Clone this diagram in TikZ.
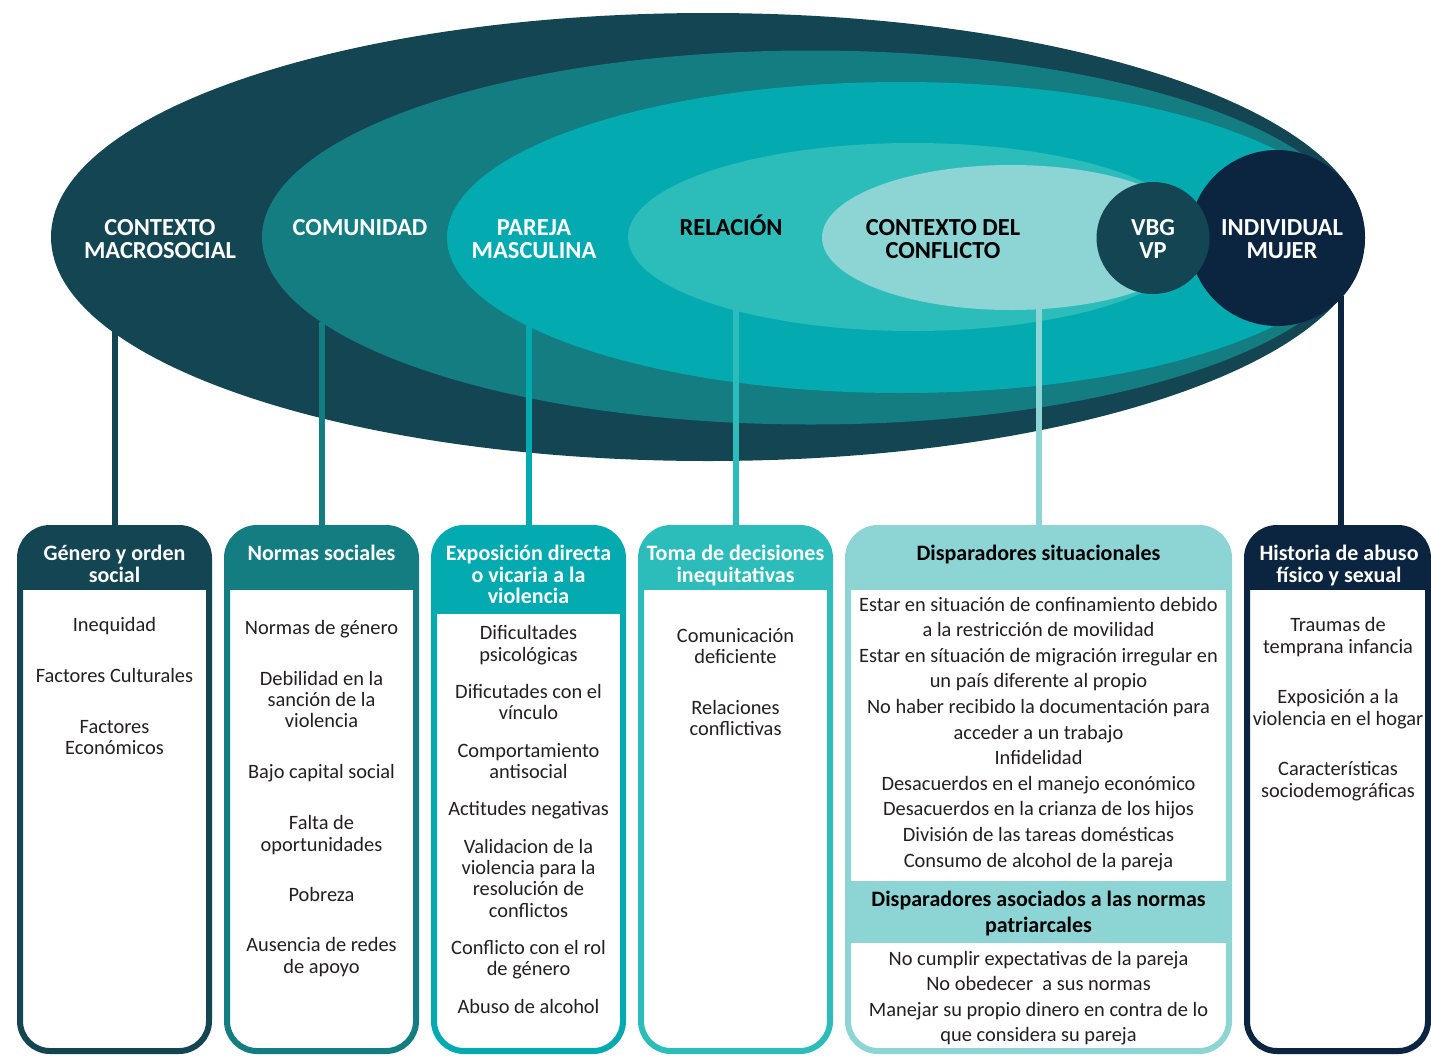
\documentclass[tikz,border=0pt]{standalone}
\usepackage{fontspec}
\setmainfont{Carlito}
\usetikzlibrary{shapes.geometric,positioning}
\definecolor{macro}{HTML}{134553}
\definecolor{comu}{HTML}{137D81}
\definecolor{pareja}{HTML}{03ABB0}
\definecolor{rela}{HTML}{2CBDBB}
\definecolor{confl}{HTML}{8DD4D5}
\definecolor{indiv}{HTML}{0B2541}
\definecolor{texto}{HTML}{231F20}

\begin{document}
\begin{tikzpicture}[x=1pt,y=-1pt,
  capa/.style={ellipse,fill=#1,inner sep=0pt},
  rotulo/.style={font=\fontsize{24.5}{24.5}\selectfont\bfseries,text=#1,inner sep=0pt,text height=16pt,text depth=0pt},
  caja/.style 2 args={draw=#1,line width=6pt,fill=white,rounded corners=30pt,minimum height=523pt,inner sep=0pt,
    path picture={\fill[#1,sharp corners] (path picture bounding box.north west) rectangle ([yshift=-#2]path picture bounding box.north east);}},
  lema/.style={font=\fontsize{22}{22}\selectfont\bfseries,text=#1,inner sep=0pt,text height=14pt,text depth=0pt},
  item/.style={font=\fontsize{20.4}{20.4}\selectfont,text=texto,inner sep=0pt,text height=12pt,text depth=0pt},
  enlace/.style={draw=#1,line width=6pt}]
\useasboundingbox (0,0) rectangle (1431,1055);

% anillos
\node[capa=macro,minimum width=1314pt,minimum height=448pt] (macro) at (708,237) {};
\node[capa=comu,minimum width=1098pt,minimum height=374pt] (comu) at (811,237.5) {};
\node[capa=pareja,minimum width=908pt,minimum height=311pt] (pareja) at (901,237.5) {};
\node[capa=rela,minimum width=570pt,minimum height=188pt] (rela) at (913,237) {};
\node[capa=confl,minimum width=378pt,minimum height=145pt] (confl) at (1011,237.5) {};
\node[capa=indiv,minimum width=176pt,minimum height=176pt] (indiv) at (1277,238) {};
\node[capa=macro,minimum width=113pt,minimum height=112pt] (vbg) at (1153,238) {};

% cajas
\node[caja={macro}{62pt},minimum width=189pt] (b1) at (114.5,789.5) {};
\node[caja={comu}{62pt},minimum width=189pt] (b2) at (321.5,789.5) {};
\node[caja={pareja}{86pt},minimum width=189pt] (b3) at (528.5,789.5) {};
\node[caja={rela}{62pt},minimum width=189pt] (b4) at (735.5,789.5) {};
\node[caja={confl}{62pt},minimum width=381pt] (b5) at (1038.5,789.5) {};
\node[caja={indiv}{62pt},minimum width=181pt] (b6) at (1337.5,789.5) {};
\fill[confl] (b5.west |- 0,881) rectangle (b5.east |- 0,943);

% enlaces
\coordinate (o1) at (114.5,331);
\coordinate (o2) at (321.5,322);
\coordinate (o3) at (528.5,326);
\coordinate (o4) at (735.5,309);
\coordinate (o5) at (1038.5,309);
\coordinate (o6) at (1341,296);
\foreach \o/\b/\c in {o1/b1/macro,o2/b2/comu,o3/b3/pareja,o4/b4/rela,o5/b5/confl,o6/b6/indiv}
  \draw[enlace=\c] (\o) -- (\o |- \b.north);

% rotulos de los anillos
\foreach \x/\y/\t/\c [count=\i] in {160/227/CONTEXTO/white,160/250/MACROSOCIAL/white,360/227/COMUNIDAD/white,
  534/227/PAREJA/white,534/250/MASCULINA/white,731/227/RELACIÓN/black,943/227/CONTEXTO DEL/black,
  943/250/CONFLICTO/black,1153/227/VBG/white,1153/250/VP/white,1282/227/INDIVIDUAL/white,1282/250/MUJER/white}
  \node[rotulo=\c] (r\i) at (\x,\y) {\t};

% encabezados
\foreach \x/\y/\t/\c [count=\i] in {114.5/553/Género y orden/white,114.5/575/social/white,321.5/553/Normas sociales/white,
  528.5/553/Exposición directa/white,528.5/575/o vicaria a la/white,528.5/596/violencia/white,
  735.5/553/Toma de decisiones/white,735.5/575/inequitativas/white,1038.5/553/Disparadores situacionales/black,
  1038.5/899/Disparadores asociados a las normas/black,1038.5/925/patriarcales/black,
  1339/553/Historia de abuso/white,1339/575/físico y sexual/white}
  \node[lema=\c] (e\i) at (\x,\y) {\t};

% contenido
\foreach \y/\t [count=\i] in {625/Inequidad,676/Factores Culturales,727/Factores,748/Económicos}
  \node[item] (a\i) at (114.5,\y) {\t};
\foreach \y/\t [count=\i] in {628/Normas de género,679/Debilidad en la,700/sanción de la,721/violencia,
  772/Bajo capital social,823/Falta de,845/oportunidades,895/Pobreza,945/Ausencia de redes,967/de apoyo}
  \node[item] (n\i) at (321.5,\y) {\t};
\foreach \y/\t [count=\i] in {633/Dificultades,655/psicológicas,692/Dificutades con el,713/vínculo,
  751/Comportamiento,772/antisocial,809/Actitudes negativas,847/Validacion de la,868/violencia para la,
  889/resolución de,911/conflictos,948/Conflicto con el rol,969/de género,1007/Abuso de alcohol}
  \node[item] (x\i) at (528.5,\y) {\t};
\foreach \y/\t [count=\i] in {636/Comunicación,657/deficiente,708/Relaciones,729/conflictivas}
  \node[item] (d\i) at (735.5,\y) {\t};
\foreach \y/\t [count=\i] in {605/Estar en situación de confinamiento debido,630/a la restricción de movilidad,
  656/Estar en sítuación de migración irregular en,681/un país diferente al propio,
  707/No haber recibido la documentación para,733/acceder a un trabajo,758/Infidelidad,
  784/Desacuerdos en el manejo económico,809/Desacuerdos en la crianza de los hijos,
  835/División de las tareas domésticas,861/Consumo de alcohol de la pareja,
  959/No cumplir expectativas de la pareja,984/No obedecer~ a sus normas,
  1010/Manejar su propio dinero en contra de lo,1035/que considera su pareja}
  \node[item] (s\i) at (1038.5,\y) {\t};
\foreach \y/\t [count=\i] in {625/Traumas de,647/temprana infancia,697/Exposición a la,719/violencia en el hogar,
  769/Características,791/sociodemográficas}
  \node[item] (h\i) at (1338,\y) {\t};
\end{tikzpicture}
\end{document}
